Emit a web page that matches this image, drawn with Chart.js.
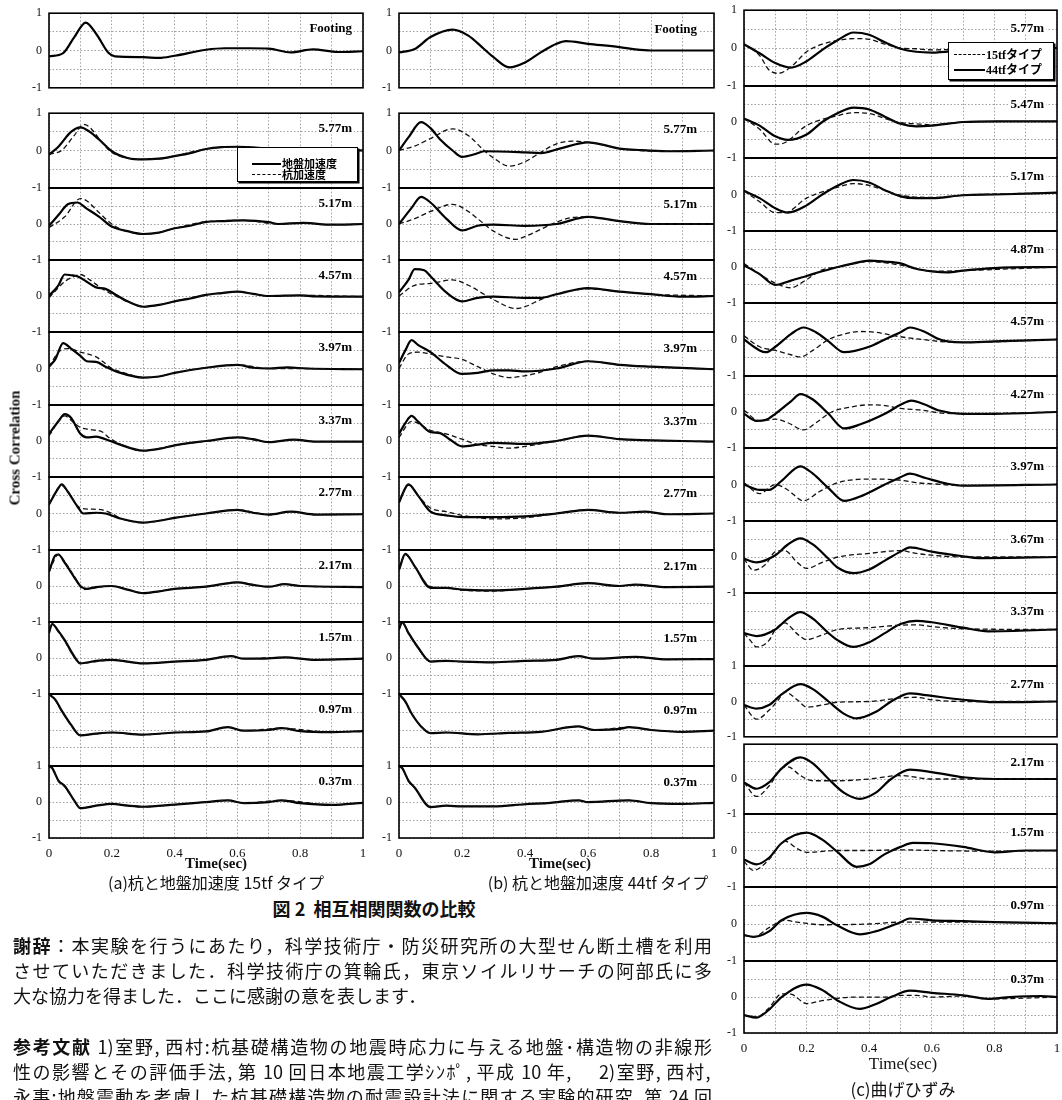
<!DOCTYPE html>
<html>
<head>
<meta charset="utf-8">
<script src="https://cdn.jsdelivr.net/npm/chart.js@4.4.1/dist/chart.umd.min.js"></script>
<style>
html, body { margin: 0; padding: 0; background: #fff; overflow: hidden; }
#page { position: relative; width: 1062px; height: 1100px; overflow: hidden; }
canvas { position: absolute; }
.t { position: absolute; white-space: nowrap; color: #111; line-height: 1; }
.c { transform: translate(-50%, -50%); }
.serif { font-family: "Liberation Serif", "DejaVu Serif", serif; }
.jp { font-family: "Noto Sans CJK JP", sans-serif; }
.lg { position: absolute; background: #fff; border: 1.5px solid #000; box-shadow: 1.5px 1.5px 0 #000; }
.lg .row { position: absolute; left: 0; height: 12px; }
.lg .sw { position: absolute; top: 6px; height: 0; }
.lg .lab { position: absolute; top: 0; line-height: 12px; font-weight: bold; white-space: nowrap; }
.body { position: absolute; left: 13px; width: 699px; height: 25px; line-height: 25px; font-size: 18px;
        font-family: "Noto Sans CJK JP", sans-serif; color: #111; text-align: justify; text-align-last: justify; white-space: nowrap; }
</style>
</head>
<body>
<div id="page"></div>
<script>
// time axis
var timeTicks = [0, 0.2, 0.4, 0.6, 0.8, 1];

// (a) 15tf, (b) 44tf : ground acceleration (solid) and pile acceleration (dashed)
var depthsAB = ['Footing', '5.77m', '5.17m', '4.57m', '3.97m', '3.37m', '2.77m', '2.17m', '1.57m', '0.97m', '0.37m'];

var groundA = [
  [[0,-0.16],[0.045,-0.07],[0.08,0.35],[0.117,0.75],[0.15,0.45],[0.19,-0.07],[0.21,-0.16],[0.3,-0.18],[0.35,-0.2],[0.4,-0.14],[0.5,0.02],[0.56,0.06],[0.64,0.06],[0.7,0.05],[0.77,-0.05],[0.84,0.03],[0.92,-0.04],[1,-0.02]],
  [[0,-0.11],[0.03,0.1],[0.07,0.5],[0.1,0.62],[0.13,0.5],[0.16,0.29],[0.2,-0.02],[0.25,-0.2],[0.3,-0.24],[0.35,-0.22],[0.4,-0.15],[0.45,-0.07],[0.5,0.04],[0.55,0.09],[0.6,0.1],[0.7,0.05],[0.8,0],[0.9,0.02],[1,0]],
  [[0,-0.05],[0.03,0.25],[0.06,0.55],[0.09,0.6],[0.12,0.43],[0.16,0.2],[0.2,-0.07],[0.25,-0.2],[0.3,-0.28],[0.35,-0.24],[0.4,-0.12],[0.45,-0.05],[0.5,0.06],[0.55,0.08],[0.62,0.1],[0.7,0.05],[0.73,0],[0.81,0.03],[0.9,-0.02],[1,0]],
  [[0,0],[0.03,0.3],[0.05,0.6],[0.07,0.58],[0.09,0.55],[0.12,0.4],[0.15,0.24],[0.18,0.2],[0.21,0.05],[0.25,-0.15],[0.3,-0.3],[0.35,-0.25],[0.4,-0.15],[0.45,-0.07],[0.5,0.03],[0.55,0.08],[0.6,0.12],[0.65,0.06],[0.7,0],[0.8,0.02],[0.85,-0.01],[1,-0.02]],
  [[0,0.05],[0.02,0.25],[0.045,0.7],[0.07,0.55],[0.1,0.35],[0.12,0.2],[0.15,0.18],[0.18,0.05],[0.22,-0.1],[0.3,-0.25],[0.35,-0.22],[0.4,-0.12],[0.5,0.02],[0.6,0.1],[0.65,0.02],[0.7,0],[0.76,0.03],[0.82,0],[1,-0.02]],
  [[0,0.2],[0.03,0.55],[0.05,0.75],[0.07,0.65],[0.1,0.2],[0.12,0.1],[0.15,0.12],[0.18,0.05],[0.22,-0.08],[0.3,-0.27],[0.35,-0.22],[0.4,-0.12],[0.45,-0.05],[0.5,0],[0.6,0.1],[0.65,0.05],[0.7,-0.03],[0.78,0.04],[0.85,-0.02],[1,-0.02]],
  [[0,0.25],[0.03,0.7],[0.04,0.8],[0.06,0.6],[0.09,0.2],[0.11,0],[0.15,0.02],[0.18,0],[0.22,-0.12],[0.3,-0.25],[0.35,-0.2],[0.4,-0.12],[0.5,0],[0.6,0.1],[0.65,0.02],[0.7,-0.03],[0.77,0.05],[0.85,-0.03],[1,-0.02]],
  [[0,0.4],[0.02,0.85],[0.03,0.88],[0.05,0.65],[0.08,0.25],[0.1,0],[0.12,-0.08],[0.15,-0.03],[0.2,0],[0.25,-0.1],[0.3,-0.2],[0.35,-0.15],[0.4,-0.08],[0.5,-0.02],[0.55,0.05],[0.6,0.1],[0.65,0.03],[0.7,-0.02],[0.75,0.05],[0.8,0],[1,-0.03]],
  [[0,0.7],[0.01,0.95],[0.03,0.75],[0.05,0.5],[0.08,0.05],[0.1,-0.15],[0.15,-0.08],[0.2,-0.05],[0.3,-0.15],[0.4,-0.1],[0.5,-0.05],[0.58,0.05],[0.62,-0.02],[0.7,-0.01],[0.75,0.02],[0.85,-0.05],[1,-0.02]],
  [[0,1],[0.02,0.85],[0.04,0.55],[0.07,0.15],[0.1,-0.15],[0.15,-0.1],[0.2,-0.07],[0.3,-0.13],[0.4,-0.07],[0.5,-0.04],[0.57,0.08],[0.62,-0.02],[0.7,0],[0.74,0.05],[0.8,-0.03],[0.9,-0.06],[1,-0.03]],
  [[0,1],[0.01,0.95],[0.03,0.6],[0.05,0.45],[0.08,0.05],[0.1,-0.17],[0.15,-0.1],[0.2,-0.05],[0.25,-0.1],[0.3,-0.13],[0.4,-0.07],[0.47,-0.02],[0.5,0],[0.57,0.05],[0.62,-0.03],[0.7,0],[0.74,0.05],[0.8,-0.03],[0.9,-0.08],[1,-0.02]]
];
var pileA = [
  null,
  [[0,-0.1],[0.04,0],[0.08,0.4],[0.11,0.7],[0.13,0.62],[0.17,0.2],[0.2,-0.05],[0.25,-0.2],[0.3,-0.24],[0.35,-0.23],[0.4,-0.15],[0.5,0.04],[0.6,0.1],[0.7,0.05],[0.8,0],[0.9,0.02],[1,0]],
  [[0,-0.1],[0.05,0.2],[0.1,0.71],[0.12,0.65],[0.15,0.4],[0.2,0],[0.23,-0.15],[0.3,-0.28],[0.35,-0.24],[0.4,-0.12],[0.5,0.06],[0.62,0.1],[0.73,0],[0.81,0.03],[0.9,-0.02],[1,0]],
  [[0,-0.05],[0.05,0.4],[0.08,0.55],[0.1,0.6],[0.13,0.45],[0.17,0.2],[0.2,0.05],[0.25,-0.15],[0.3,-0.3],[0.35,-0.25],[0.4,-0.15],[0.5,0.03],[0.6,0.12],[0.7,0],[0.8,0.02],[1,-0.02]],
  [[0,0.05],[0.03,0.45],[0.06,0.55],[0.1,0.45],[0.15,0.32],[0.17,0.2],[0.2,0],[0.24,-0.12],[0.3,-0.25],[0.35,-0.22],[0.4,-0.12],[0.5,0.02],[0.6,0.1],[0.7,0],[0.82,0],[1,-0.02]],
  [[0,0.15],[0.05,0.7],[0.08,0.5],[0.1,0.38],[0.13,0.32],[0.17,0.25],[0.19,0.1],[0.23,-0.1],[0.3,-0.27],[0.4,-0.12],[0.5,0],[0.6,0.1],[0.7,-0.03],[0.78,0.04],[0.85,-0.02],[1,-0.02]],
  [[0,0.25],[0.04,0.78],[0.06,0.6],[0.1,0.15],[0.13,0.12],[0.17,0.1],[0.2,0],[0.23,-0.14],[0.3,-0.25],[0.4,-0.12],[0.5,0],[0.6,0.1],[0.7,-0.03],[0.77,0.05],[0.85,-0.03],[1,-0.02]],
  [[0,0.4],[0.03,0.88],[0.05,0.68],[0.08,0.28],[0.11,-0.1],[0.13,-0.08],[0.17,-0.02],[0.2,0],[0.25,-0.1],[0.3,-0.2],[0.4,-0.08],[0.5,-0.02],[0.6,0.1],[0.7,-0.02],[0.75,0.05],[0.8,0],[1,-0.03]],
  [[0,0.7],[0.01,0.95],[0.03,0.72],[0.05,0.48],[0.08,0.02],[0.1,-0.15],[0.15,-0.1],[0.2,-0.06],[0.3,-0.15],[0.4,-0.1],[0.5,-0.05],[0.58,0.05],[0.62,-0.02],[0.75,0.02],[0.85,-0.05],[1,-0.02]],
  [[0,1],[0.02,0.83],[0.04,0.53],[0.07,0.13],[0.1,-0.15],[0.15,-0.1],[0.2,-0.07],[0.3,-0.13],[0.4,-0.07],[0.5,-0.04],[0.57,0.08],[0.62,-0.02],[0.74,0.05],[0.9,-0.06],[1,-0.03]],
  [[0,1],[0.01,0.95],[0.03,0.58],[0.05,0.43],[0.08,0.04],[0.1,-0.17],[0.15,-0.1],[0.2,-0.05],[0.3,-0.13],[0.4,-0.07],[0.5,0],[0.57,0.05],[0.62,-0.03],[0.74,0.05],[0.9,-0.08],[1,-0.02]]
];

var groundB = [
  [[0,-0.05],[0.05,0.04],[0.1,0.36],[0.17,0.56],[0.22,0.4],[0.27,0.04],[0.3,-0.18],[0.35,-0.45],[0.4,-0.32],[0.45,-0.05],[0.5,0.18],[0.53,0.25],[0.6,0.18],[0.7,0.09],[0.75,0.03],[0.8,0],[1,0]],
  [[0,0],[0.03,0.35],[0.07,0.76],[0.1,0.6],[0.13,0.3],[0.17,0],[0.2,-0.17],[0.24,-0.1],[0.27,-0.02],[0.4,-0.05],[0.45,-0.07],[0.51,0.05],[0.6,0.22],[0.65,0.15],[0.7,0.05],[0.75,0.02],[0.85,-0.02],[1,0]],
  [[0,0],[0.04,0.45],[0.07,0.76],[0.1,0.6],[0.15,0.15],[0.2,-0.18],[0.25,-0.05],[0.3,-0.02],[0.4,-0.05],[0.5,0],[0.6,0.2],[0.65,0.15],[0.7,0.08],[0.8,0],[1,0]],
  [[0,0.1],[0.03,0.45],[0.05,0.75],[0.08,0.72],[0.1,0.55],[0.15,0.1],[0.2,-0.15],[0.25,-0.05],[0.3,-0.02],[0.4,-0.05],[0.45,-0.05],[0.5,0.05],[0.6,0.22],[0.7,0.12],[0.8,0.05],[0.9,-0.02],[1,0]],
  [[0,0.15],[0.02,0.5],[0.04,0.78],[0.06,0.65],[0.1,0.45],[0.15,0.1],[0.2,-0.15],[0.25,-0.12],[0.3,-0.05],[0.35,-0.05],[0.4,-0.08],[0.5,0],[0.6,0.2],[0.7,0.1],[0.8,0.05],[1,-0.02]],
  [[0,0.2],[0.02,0.5],[0.04,0.7],[0.06,0.55],[0.1,0.25],[0.13,0.22],[0.16,0.05],[0.2,-0.15],[0.25,-0.1],[0.3,-0.05],[0.4,-0.08],[0.5,0],[0.6,0.15],[0.7,0.05],[0.8,0.02],[1,-0.02]],
  [[0,0.3],[0.02,0.7],[0.03,0.8],[0.06,0.5],[0.1,0.05],[0.15,-0.05],[0.2,-0.1],[0.3,-0.1],[0.4,-0.08],[0.5,0],[0.6,0.1],[0.7,0.02],[0.78,0.05],[0.85,-0.02],[1,0]],
  [[0,0.45],[0.02,0.9],[0.05,0.55],[0.1,-0.05],[0.15,-0.05],[0.2,-0.1],[0.3,-0.12],[0.4,-0.08],[0.5,-0.02],[0.6,0.08],[0.7,0],[0.75,0.04],[0.85,-0.03],[1,-0.02]],
  [[0,0.8],[0.01,1],[0.03,0.7],[0.06,0.3],[0.1,-0.1],[0.15,-0.08],[0.2,-0.1],[0.3,-0.12],[0.4,-0.08],[0.5,-0.05],[0.57,0.05],[0.62,-0.02],[0.75,0.03],[0.85,-0.04],[1,-0.03]],
  [[0,1],[0.02,0.8],[0.04,0.46],[0.07,0.1],[0.1,-0.09],[0.15,-0.07],[0.25,-0.12],[0.35,-0.08],[0.45,-0.05],[0.57,0.1],[0.62,0],[0.7,0.03],[0.73,0.08],[0.8,0],[0.9,-0.05],[1,-0.02]],
  [[0,1],[0.01,0.95],[0.03,0.6],[0.05,0.4],[0.1,-0.14],[0.15,-0.1],[0.2,-0.12],[0.3,-0.12],[0.4,-0.06],[0.48,-0.02],[0.57,0.05],[0.6,0],[0.73,0.05],[0.8,-0.03],[0.9,-0.05],[1,-0.02]]
];
var pileB = [
  null,
  [[0,0],[0.05,0.12],[0.1,0.32],[0.17,0.58],[0.22,0.4],[0.27,0],[0.3,-0.2],[0.35,-0.42],[0.4,-0.3],[0.45,-0.05],[0.5,0.18],[0.55,0.25],[0.6,0.22],[0.65,0.15],[0.7,0.05],[0.85,-0.02],[1,0]],
  [[0,0],[0.05,0.15],[0.1,0.35],[0.17,0.55],[0.22,0.35],[0.27,0],[0.3,-0.2],[0.37,-0.43],[0.4,-0.35],[0.45,-0.15],[0.5,0.05],[0.55,0.18],[0.6,0.2],[0.65,0.15],[0.7,0.08],[0.8,0],[1,0]],
  [[0,0],[0.05,0.3],[0.1,0.35],[0.17,0.45],[0.22,0.3],[0.27,0.05],[0.3,-0.1],[0.37,-0.35],[0.4,-0.3],[0.45,-0.1],[0.5,0.05],[0.55,0.15],[0.6,0.2],[0.7,0.12],[0.8,0.05],[1,0]],
  [[0,0],[0.03,0.4],[0.06,0.45],[0.1,0.4],[0.15,0.32],[0.2,0.25],[0.25,0.05],[0.3,-0.15],[0.35,-0.25],[0.4,-0.2],[0.45,-0.1],[0.5,0.05],[0.6,0.2],[0.7,0.1],[0.8,0.05],[1,-0.02]],
  [[0,0.1],[0.04,0.55],[0.1,0.3],[0.15,0.2],[0.2,0.05],[0.25,-0.1],[0.3,-0.15],[0.35,-0.2],[0.4,-0.15],[0.5,0],[0.6,0.15],[0.7,0.05],[0.8,0.02],[1,-0.02]],
  [[0,0.3],[0.03,0.78],[0.06,0.5],[0.1,0.15],[0.15,0.05],[0.2,-0.05],[0.3,-0.15],[0.4,-0.12],[0.5,0],[0.6,0.1],[0.7,0.02],[0.78,0.05],[0.85,-0.02],[1,0]],
  [[0,0.45],[0.02,0.88],[0.05,0.55],[0.1,-0.02],[0.15,-0.05],[0.2,-0.12],[0.3,-0.14],[0.4,-0.08],[0.5,-0.02],[0.6,0.08],[0.7,0],[0.75,0.04],[0.85,-0.03],[1,-0.02]],
  [[0,0.8],[0.01,0.98],[0.03,0.68],[0.06,0.28],[0.1,-0.1],[0.15,-0.09],[0.2,-0.1],[0.3,-0.12],[0.4,-0.08],[0.5,-0.05],[0.57,0.05],[0.62,-0.02],[0.75,0.03],[0.85,-0.04],[1,-0.03]],
  [[0,1],[0.02,0.78],[0.04,0.45],[0.07,0.1],[0.1,-0.09],[0.15,-0.07],[0.25,-0.12],[0.35,-0.08],[0.45,-0.05],[0.57,0.1],[0.62,0],[0.73,0.08],[0.8,0],[0.9,-0.05],[1,-0.02]],
  [[0,1],[0.01,0.95],[0.03,0.58],[0.05,0.4],[0.1,-0.14],[0.15,-0.1],[0.2,-0.12],[0.3,-0.12],[0.4,-0.06],[0.48,-0.02],[0.57,0.05],[0.6,0],[0.73,0.05],[0.8,-0.03],[0.9,-0.05],[1,-0.02]]
];

// (c) bending strain: 15tf (dashed) and 44tf (solid)
var depthsC = ['5.77m', '5.47m', '5.17m', '4.87m', '4.57m', '4.27m', '3.97m', '3.67m', '3.37m', '2.77m', '2.17m', '1.57m', '0.97m', '0.37m'];

var tf44 = [
  [[0,0.1],[0.05,-0.14],[0.1,-0.4],[0.15,-0.52],[0.2,-0.35],[0.25,-0.05],[0.3,0.21],[0.35,0.41],[0.4,0.35],[0.45,0.15],[0.5,-0.02],[0.55,-0.1],[0.6,-0.12],[0.7,-0.05],[0.8,0],[1,0]],
  [[0,0.1],[0.05,-0.1],[0.1,-0.4],[0.14,-0.5],[0.2,-0.35],[0.25,0],[0.3,0.25],[0.35,0.4],[0.4,0.35],[0.45,0.15],[0.5,-0.05],[0.55,-0.12],[0.6,-0.1],[0.7,0],[0.8,0.02],[1,0.02]],
  [[0,0.1],[0.05,-0.1],[0.1,-0.38],[0.14,-0.5],[0.2,-0.3],[0.25,0],[0.3,0.25],[0.35,0.4],[0.4,0.33],[0.45,0.12],[0.5,-0.05],[0.55,-0.1],[0.6,-0.1],[0.7,-0.02],[0.8,0],[1,0.05]],
  [[0,0.05],[0.05,-0.2],[0.1,-0.5],[0.15,-0.38],[0.2,-0.25],[0.25,-0.12],[0.3,0],[0.35,0.1],[0.4,0.18],[0.45,0.15],[0.5,0.1],[0.55,-0.05],[0.6,-0.12],[0.65,-0.15],[0.7,-0.1],[0.8,-0.03],[1,0]],
  [[0,0],[0.05,-0.3],[0.07,-0.35],[0.1,-0.2],[0.15,0.15],[0.19,0.33],[0.23,0.2],[0.27,-0.05],[0.32,-0.35],[0.4,-0.2],[0.45,0],[0.5,0.2],[0.53,0.33],[0.58,0.2],[0.62,0.02],[0.65,-0.05],[0.7,-0.08],[0.8,-0.05],[1,0]],
  [[0,-0.05],[0.04,-0.25],[0.07,-0.22],[0.1,-0.05],[0.15,0.3],[0.18,0.5],[0.22,0.35],[0.27,-0.05],[0.32,-0.46],[0.37,-0.35],[0.45,-0.05],[0.5,0.2],[0.535,0.32],[0.58,0.2],[0.62,0.05],[0.7,-0.05],[0.8,-0.05],[1,0]],
  [[0,0],[0.05,-0.15],[0.08,-0.15],[0.12,0.1],[0.18,0.5],[0.22,0.3],[0.27,-0.1],[0.32,-0.45],[0.38,-0.3],[0.45,0],[0.5,0.2],[0.53,0.3],[0.58,0.18],[0.65,0.02],[0.7,-0.03],[1,0]],
  [[0,-0.05],[0.04,-0.15],[0.1,0.05],[0.14,0.35],[0.18,0.52],[0.22,0.35],[0.27,-0.05],[0.3,-0.3],[0.35,-0.45],[0.4,-0.35],[0.45,-0.1],[0.5,0.15],[0.53,0.27],[0.6,0.15],[0.7,0.02],[0.75,-0.03],[1,0]],
  [[0,-0.1],[0.04,-0.18],[0.1,0],[0.14,0.3],[0.18,0.48],[0.22,0.3],[0.27,-0.1],[0.3,-0.3],[0.35,-0.48],[0.4,-0.35],[0.45,-0.1],[0.5,0.15],[0.55,0.24],[0.6,0.2],[0.7,0.05],[0.78,-0.05],[1,0]],
  [[0,-0.1],[0.04,-0.2],[0.08,-0.1],[0.12,0.2],[0.18,0.49],[0.22,0.35],[0.27,0],[0.32,-0.35],[0.36,-0.48],[0.42,-0.3],[0.47,0],[0.53,0.23],[0.58,0.18],[0.7,0.05],[0.8,-0.02],[1,0]],
  [[0,-0.1],[0.04,-0.28],[0.08,-0.1],[0.12,0.3],[0.18,0.62],[0.22,0.45],[0.27,0],[0.32,-0.4],[0.37,-0.57],[0.42,-0.4],[0.47,0],[0.53,0.27],[0.6,0.2],[0.7,0.05],[0.8,0],[1,0]],
  [[0,-0.25],[0.04,-0.38],[0.08,-0.2],[0.12,0.2],[0.2,0.49],[0.25,0.3],[0.3,-0.05],[0.36,-0.45],[0.4,-0.38],[0.45,-0.1],[0.5,0.1],[0.54,0.21],[0.6,0.2],[0.7,0.1],[0.8,-0.05],[0.9,0],[1,0]],
  [[0,-0.3],[0.03,-0.35],[0.08,-0.2],[0.12,0.1],[0.2,0.3],[0.25,0.2],[0.3,-0.05],[0.37,-0.28],[0.42,-0.2],[0.5,0.05],[0.53,0.15],[0.6,0.1],[0.7,0.08],[0.8,0.05],[1,0.02]],
  [[0,-0.5],[0.04,-0.57],[0.08,-0.35],[0.12,0],[0.2,0.35],[0.25,0.2],[0.3,-0.1],[0.37,-0.33],[0.42,-0.2],[0.47,0],[0.53,0.18],[0.6,0.12],[0.7,0.05],[0.78,-0.05],[0.85,0],[0.95,0.03],[1,0]]
];
var tf15 = [
  [[0,0.1],[0.05,-0.2],[0.08,-0.58],[0.11,-0.67],[0.15,-0.5],[0.2,-0.1],[0.25,0.1],[0.3,0.2],[0.35,0.25],[0.4,0.23],[0.45,0.1],[0.5,0],[0.55,-0.02],[0.6,-0.05],[0.7,-0.03],[1,0]],
  [[0,0.1],[0.05,-0.2],[0.1,-0.62],[0.13,-0.58],[0.2,-0.1],[0.3,0.18],[0.35,0.26],[0.4,0.24],[0.45,0.1],[0.5,-0.02],[0.55,-0.05],[0.6,-0.08],[0.7,0],[1,0.02]],
  [[0,0.1],[0.05,-0.2],[0.1,-0.5],[0.13,-0.5],[0.2,-0.1],[0.3,0.2],[0.35,0.3],[0.4,0.25],[0.5,-0.02],[0.6,-0.08],[0.7,-0.02],[1,0.05]],
  [[0,0.1],[0.05,-0.2],[0.1,-0.45],[0.15,-0.58],[0.2,-0.35],[0.25,-0.08],[0.3,0],[0.4,0.15],[0.5,0.05],[0.55,-0.05],[0.6,-0.12],[0.7,-0.1],[1,0]],
  [[0,0.1],[0.05,-0.2],[0.1,-0.3],[0.15,-0.42],[0.18,-0.48],[0.22,-0.3],[0.27,0],[0.32,0.15],[0.37,0.22],[0.42,0.2],[0.47,0.12],[0.52,0.05],[0.57,0],[0.62,-0.05],[0.7,-0.08],[1,0]],
  [[0,0.05],[0.05,-0.25],[0.1,-0.2],[0.14,-0.3],[0.19,-0.5],[0.23,-0.3],[0.28,0],[0.33,0.12],[0.4,0.2],[0.45,0.18],[0.5,0.1],[0.57,0.05],[0.62,-0.02],[0.7,-0.05],[1,0]],
  [[0,0.05],[0.05,-0.25],[0.1,0],[0.14,-0.15],[0.19,-0.45],[0.24,-0.2],[0.3,0.05],[0.4,0.15],[0.5,0.12],[0.55,0.05],[0.6,0.02],[0.7,-0.03],[1,0]],
  [[0,-0.05],[0.03,-0.37],[0.07,-0.2],[0.1,0.15],[0.13,0.18],[0.17,-0.15],[0.2,-0.32],[0.25,-0.15],[0.3,0],[0.4,0.1],[0.5,0.18],[0.55,0.1],[0.6,0.05],[0.7,0],[1,0]],
  [[0,-0.1],[0.02,-0.3],[0.04,-0.48],[0.08,-0.3],[0.1,0],[0.13,0.18],[0.17,-0.12],[0.2,-0.28],[0.25,-0.15],[0.3,0],[0.4,0.05],[0.5,0.12],[0.55,0.13],[0.6,0.08],[0.7,0.02],[1,0]],
  [[0,-0.1],[0.04,-0.5],[0.08,-0.25],[0.11,0.05],[0.13,0.27],[0.17,0.05],[0.2,-0.16],[0.25,-0.1],[0.3,-0.02],[0.4,0],[0.5,0.1],[0.55,0.12],[0.6,0.05],[0.7,0],[1,0]],
  [[0,-0.1],[0.04,-0.5],[0.08,-0.2],[0.12,0.3],[0.14,0.35],[0.18,0.1],[0.22,-0.05],[0.3,-0.05],[0.4,0],[0.5,0.1],[0.6,0],[1,0]],
  [[0,-0.3],[0.03,-0.55],[0.08,-0.25],[0.13,0.26],[0.17,0.05],[0.2,-0.05],[0.3,0],[0.4,0],[0.5,0.02],[0.6,0],[0.8,-0.02],[1,0]],
  [[0,-0.3],[0.03,-0.35],[0.08,-0.1],[0.13,0.1],[0.17,0.05],[0.25,-0.02],[0.4,0],[0.5,0.05],[0.6,0.05],[0.7,0.05],[1,0.02]],
  [[0,-0.5],[0.04,-0.55],[0.08,-0.3],[0.12,0.09],[0.15,0.08],[0.2,-0.18],[0.25,-0.1],[0.35,0],[0.45,0],[0.5,0.05],[0.55,0.05],[0.6,0],[0.7,0.03],[0.78,-0.05],[1,0]]
];

// y tick texts shown per panel: [at 1, at 0, at -1]
var yTextAB = [['1','0','-1'],['1','0','-1'],['','0','-1'],['','0','-1'],['','0','-1'],['','0','-1'],['','0','-1'],['','0','-1'],['','0','-1'],['','',''],['1','0','-1']];
var yTextC = [['1','0','-1'],['','0','-1'],['','0','-1'],['','0','-1'],['','0','-1'],['','0','-1'],['','0','-1'],['','0','-1'],['','',''],['1','0','-1'],['','0','-1'],['','0','-1'],['','0','-1'],['','0','-1']];

// layout (pixels)
var edgesAB = [[13,88],[113,188],[188,260],[260,332],[332,405],[405,477],[477,550],[550,622],[622,694],[694,766],[766,838]];
var edgesC = [[10,86],[86,158],[158,231],[231,303],[303,376],[376,448],[448,521],[521,593],[593,666],[666,737],[744,814],[814,887],[887,961],[961,1033]];

var page = document.getElementById('page');

var panelDeco = {
  id: 'panelDeco',
  afterDraw: function(chart) {
    var a = chart.chartArea, ctx = chart.ctx, o = chart.options.plugins.panelDeco;
    ctx.save();
    ctx.font = 'bold 13px "Liberation Serif"';
    var w = ctx.measureText(o.label).width;
    var x = a.right - o.dx - w, y = a.top + o.dy;
    ctx.fillStyle = '#fff';
    ctx.fillRect(x - 2, y - 6, w + 4, 12);
    ctx.fillStyle = '#000';
    ctx.textBaseline = 'middle';
    ctx.fillText(o.label, x, y + 0.5);
    ctx.lineWidth = 1.6;
    ctx.strokeStyle = '#000';
    ctx.strokeRect(a.left, a.top, a.width, a.height);
    ctx.restore();
  }
};

function toXY(s) {
  return s.map(function(p) { return {x: p[0], y: p[1]}; });
}

function makePanel(xr, edge, label, solid, dashed, yText, bottom, dx, dy) {
  var c = document.createElement('canvas');
  var w = (xr[1] - xr[0]) + 40 + 12;
  var h = (edge[1] - edge[0]) + 16 + (bottom ? 26 : 8);
  c.width = w; c.height = h;
  c.style.left = (xr[0] - 40) + 'px';
  c.style.top = (edge[0] - 8) + 'px';
  page.appendChild(c);

  var sets = [];
  if (dashed) sets.push({data: toXY(dashed), borderColor: '#111', borderWidth: 1.3, borderDash: [5, 3]});
  sets.push({data: toXY(solid), borderColor: '#000', borderWidth: 2.2});
  sets.forEach(function(d) {
    d.pointRadius = 0; d.fill = false; d.cubicInterpolationMode = 'monotone';
  });

  var chart = new Chart(c, {
    type: 'line',
    data: {datasets: sets},
    plugins: [panelDeco],
    options: {
      responsive: false, maintainAspectRatio: false, animation: false, events: [],
      layout: {padding: {left: 0, right: 12, top: 2, bottom: bottom ? 0 : 2}},
      plugins: {legend: {display: false}, tooltip: {enabled: false}, panelDeco: {label: label, dx: dx, dy: dy}},
      scales: {
        x: {
          type: 'linear', min: 0, max: 1,
          border: {display: false, dash: [1.5, 2]},
          grid: {color: '#888', lineWidth: 0.8, drawTicks: false},
          ticks: {
            display: bottom, stepSize: 0.1, autoSkip: false, maxRotation: 0, padding: 8,
            color: '#111', font: {family: '"Liberation Serif"', size: 13},
            callback: function(v) {
              for (var i = 0; i < timeTicks.length; i++) {
                if (Math.abs(v - timeTicks[i]) < 1e-6) return String(timeTicks[i]);
              }
              return '';
            }
          },
          afterFit: function(s) { s.height = bottom ? 26 : 0; }
        },
        y: {
          min: -1, max: 1,
          border: {display: false, dash: [1.5, 2]},
          grid: {color: '#888', lineWidth: 0.8, drawTicks: false},
          ticks: {
            stepSize: 0.5, padding: 7, color: '#111',
            font: {family: '"Liberation Serif"', size: 12},
            callback: function(v) {
              if (v === 1) return yText[0];
              if (v === 0) return yText[1];
              if (v === -1) return yText[2];
              return '';
            }
          },
          afterFit: function(s) { s.width = 40; }
        }
      }
    }
  });

  // fit the plot area exactly onto the panel edges
  var ca = chart.chartArea;
  var extra = (edge[1] - edge[0]) - (ca.bottom - ca.top);
  if (Math.abs(extra) > 0.2) {
    chart.resize(w, Math.round(h + extra));
    ca = chart.chartArea;
  }
  c.style.left = (xr[0] - ca.left) + 'px';
  c.style.top = (edge[0] - ca.top) + 'px';
}

var xA = [49, 363], xB = [399, 714], xC = [744, 1057];
for (var i = 0; i < depthsAB.length; i++) {
  var last = i === depthsAB.length - 1;
  makePanel(xA, edgesAB[i], depthsAB[i], groundA[i], pileA[i], yTextAB[i], last, 11, 15);
  makePanel(xB, edgesAB[i], depthsAB[i], groundB[i], pileB[i], yTextAB[i], last, 17, 16);
}
for (var j = 0; j < depthsC.length; j++) {
  makePanel(xC, edgesC[j], depthsC[j], tf44[j], tf15[j], yTextC[j], j === depthsC.length - 1, 13, 18);
}

function addText(html, x, y, cls, style) {
  var d = document.createElement('div');
  d.className = 't c ' + cls;
  d.innerHTML = html;
  d.style.left = x + 'px';
  d.style.top = y + 'px';
  if (style) d.style.cssText += style;
  page.appendChild(d);
  return d;
}

addText('Cross Correlation', 15, 448, 'serif', 'font-size:15px;font-weight:bold;transform:translate(-50%,-50%) rotate(-90deg);');
addText('Time(sec)', 216, 863, 'serif', 'font-size:15px;font-weight:bold;');
addText('Time(sec)', 560, 863, 'serif', 'font-size:15px;font-weight:bold;');
addText('Time(sec)', 903, 1063, 'serif', 'font-size:17px;');
addText('(a)杭と地盤加速度 15tf タイプ', 216, 882, 'jp', 'font-size:16px;');
addText('(b) 杭と地盤加速度 44tf タイプ', 598, 882, 'jp', 'font-size:16px;');
addText('図 2&nbsp; 相互相関関数の比較', 374, 908, 'jp', 'font-size:18px;font-weight:bold;');
addText('(c)曲げひずみ', 903, 1088, 'jp', 'font-size:17px;');

function addLegend(left, top, w, h, rows, cls, size) {
  var box = document.createElement('div');
  box.className = 'lg';
  box.style.cssText = 'left:' + left + 'px;top:' + top + 'px;width:' + w + 'px;height:' + h + 'px;';
  rows.forEach(function(r) {
    var row = document.createElement('div');
    row.className = 'row';
    row.style.top = r.y + 'px';
    row.style.width = w + 'px';
    row.innerHTML = '<div class="sw" style="left:' + r.sx + 'px;width:' + r.sw + 'px;border-top:' +
      (r.dash ? '1.2px dashed #000' : '2px solid #000') + ';"></div>' +
      '<div class="lab ' + cls + '" style="left:' + (r.sx + r.sw + 1) + 'px;font-size:' + size + 'px;">' + r.text + '</div>';
    box.appendChild(row);
  });
  page.appendChild(box);
}

addLegend(237, 147, 119, 33, [
  {y: 9, sx: 14, sw: 29, dash: false, text: '地盤加速度'},
  {y: 20, sx: 14, sw: 29, dash: true, text: '杭加速度'}
], 'jp', 11);
addLegend(948, 42, 104, 36, [
  {y: 5, sx: 5, sw: 31, dash: true, text: '<span class="serif">15tf</span>タイプ'},
  {y: 20, sx: 5, sw: 31, dash: false, text: '<span class="serif">44tf</span>タイプ'}
], 'jp', 12);

var bodyLines = [
  {y: 945, html: '<b>謝辞</b>：本実験を行うにあたり，科学技術庁・防災研究所の大型せん断土槽を利用', j: true},
  {y: 970, html: 'させていただきました．科学技術庁の箕輪氏，東京ソイルリサーチの阿部氏に多', j: true},
  {y: 995, html: '大な協力を得ました．ここに感謝の意を表します．', j: false},
  {y: 1046, html: '<b>参考文献</b> 1)室野, 西村:杭基礎構造物の地震時応力に与える地盤･構造物の非線形', j: true},
  {y: 1071, html: '性の影響とその評価手法, 第 10 回日本地震工学ｼﾝﾎﾟ, 平成 10 年,&nbsp;&nbsp;&nbsp;&nbsp; 2)室野, 西村,', j: true},
  {y: 1096, html: '永事:地盤震動を考慮した杭基礎構造物の耐震設計法に関する実験的研究, 第 24 回', j: true}
];
bodyLines.forEach(function(l) {
  var d = document.createElement('div');
  d.className = 'body';
  d.style.top = (l.y - 12.5) + 'px';
  if (!l.j) d.style.textAlignLast = 'left';
  d.innerHTML = l.html;
  page.appendChild(d);
});
</script>
</body>
</html>
